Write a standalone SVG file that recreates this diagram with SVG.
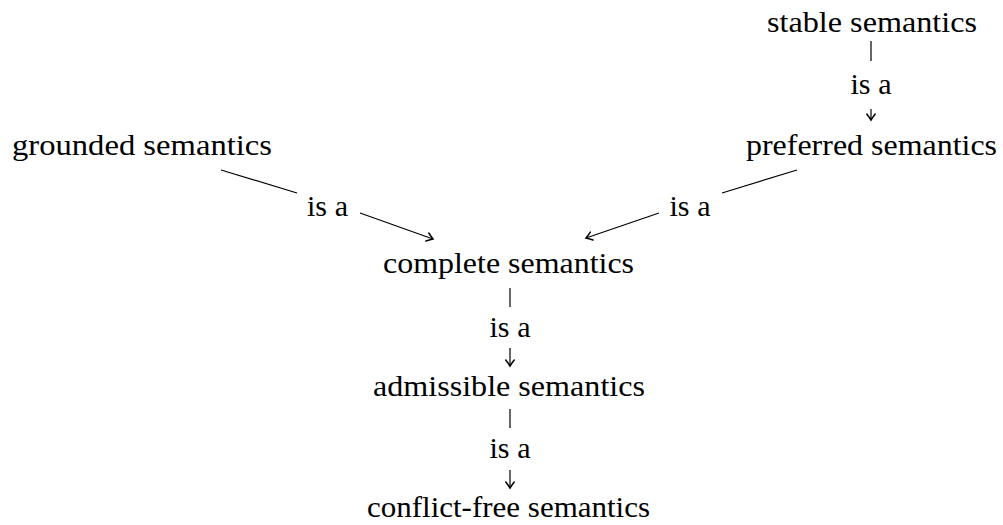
<svg xmlns="http://www.w3.org/2000/svg" width="1003" height="525" viewBox="0 0 1003 525">
<style>
text{font-family:"Liberation Serif","Times New Roman",serif;font-size:30px;fill:#000;text-anchor:middle}
.c line{stroke:#000;stroke-width:1.2;fill:none}
</style>
<defs>
<marker id="to" markerUnits="userSpaceOnUse" viewBox="-8 -6 10 12" refX="0" refY="0" markerWidth="10" markerHeight="12" orient="auto" overflow="visible">
<path d="M-6,-4.2 Q-2,-1.2 0,0 Q-2,1.2 -6,4.2" fill="none" stroke="#000" stroke-width="1.5" stroke-linecap="round"/>
</marker>
</defs>
<rect width="1003" height="525" fill="#fff"/>
<g class="c" id="connectors">
<line x1="871" y1="41" x2="871" y2="61"/>
<line x1="871" y1="109" x2="871" y2="120" marker-end="url(#to)"/>
<line x1="221" y1="170" x2="297" y2="193"/>
<line x1="360" y1="213" x2="433" y2="239" marker-end="url(#to)"/>
<line x1="797" y1="170" x2="722" y2="193"/>
<line x1="659" y1="213" x2="586" y2="238" marker-end="url(#to)"/>
<line x1="510" y1="288" x2="510" y2="307"/>
<line x1="510" y1="348" x2="510" y2="366" marker-end="url(#to)"/>
<line x1="510" y1="409" x2="510" y2="428"/>
<line x1="510" y1="470" x2="510" y2="488" marker-end="url(#to)"/>
<text x="871" y="94" textLength="41" lengthAdjust="spacingAndGlyphs">is a</text>
<text x="327.5" y="216" textLength="41" lengthAdjust="spacingAndGlyphs">is a</text>
<text x="690" y="216" textLength="41" lengthAdjust="spacingAndGlyphs">is a</text>
<text x="510" y="337" textLength="41" lengthAdjust="spacingAndGlyphs">is a</text>
<text x="510" y="458" textLength="41" lengthAdjust="spacingAndGlyphs">is a</text>
</g>
<g id="stable"><text x="872" y="32" textLength="210" lengthAdjust="spacingAndGlyphs">stable semantics</text></g>
<g id="grounded"><text x="142" y="155" textLength="260" lengthAdjust="spacingAndGlyphs">grounded semantics</text></g>
<g id="preferred"><text x="871.5" y="155" textLength="251" lengthAdjust="spacingAndGlyphs">preferred semantics</text></g>
<g id="complete"><text x="508.5" y="273" textLength="251" lengthAdjust="spacingAndGlyphs">complete semantics</text></g>
<g id="admissible"><text x="509" y="396" textLength="272" lengthAdjust="spacingAndGlyphs">admissible semantics</text></g>
<g id="conflictfree"><text x="508.5" y="517" textLength="283" lengthAdjust="spacingAndGlyphs">conflict-free semantics</text></g>
</svg>
